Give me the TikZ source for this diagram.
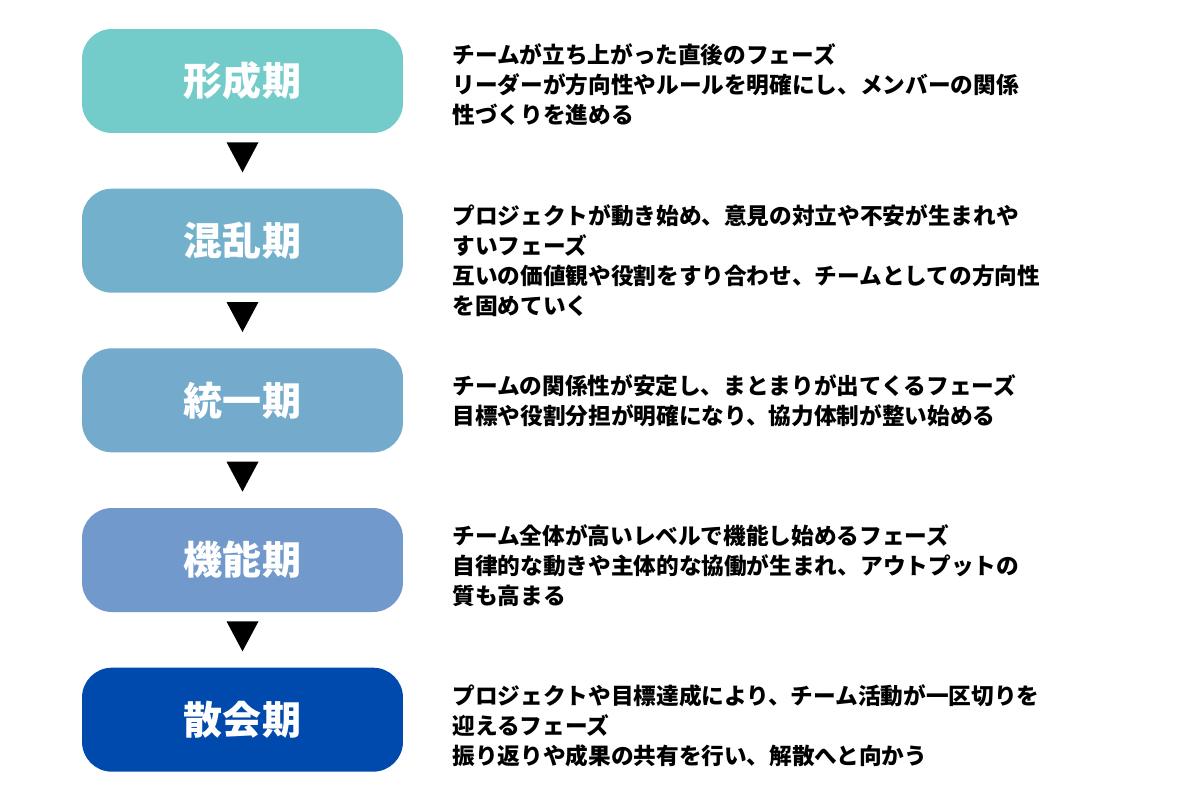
\documentclass[tikz,border=0pt]{standalone}
\usepackage{fontspec}
\setmainfont{Noto Sans CJK JP}
\usetikzlibrary{positioning,calc}
\definecolor{keisei}{RGB}{115,204,201}
\definecolor{konran}{RGB}{114,176,204}
\definecolor{touitsu}{RGB}{116,170,204}
\definecolor{kinou}{RGB}{113,153,204}
\definecolor{sankai}{RGB}{0,74,173}
\tikzset{
  phase/.style={rounded corners=17pt, minimum width=6.42cm, minimum height=2.08cm,
    inner sep=0, text=white, font=\fontsize{22.2}{26}\selectfont\bfseries},
  desc/.style={anchor=north west, inner sep=0, align=left,
    font=\fontsize{12.9}{17.1}\selectfont\bfseries},
}
\begin{document}
\begin{tikzpicture}[x=0.02cm,y=-0.02cm]
  \useasboundingbox (0,0) rectangle (1200,800);
  % 段階の箱
  \node[phase, fill=keisei] (keisei) at (242.5,81) {形成期};
  \node[phase, fill=konran, below=1.1cm of keisei] (konran) {混乱期};
  \node[phase, fill=touitsu, below=1.1cm of konran] (touitsu) {統一期};
  \node[phase, fill=kinou, below=1.1cm of touitsu] (kinou) {機能期};
  \node[phase, fill=sankai, below=1.1cm of kinou] (sankai) {散会期};
  % 三角
  \foreach \a in {keisei,konran,touitsu,kinou}
    \fill ($(\a.south)+(-16,9)$) -- ++(32,0) -- ++(-16,30) -- cycle;
  % 説明
  \node[desc] (dkeisei) at (452,43) {チームが立ち上がった直後のフェーズ\\
    リーダーが方向性やルールを明確にし、メンバーの関係\\
    性づくりを進める};
  \node[desc] (dkonran) at (452,204) {プロジェクトが動き始め、意見の対立や不安が生まれや\\
    すいフェーズ\\
    互いの価値観や役割をすり合わせ、チームとしての方向性\\
    を固めていく};
  \node[desc] (dtouitsu) at (452,374.5) {チームの関係性が安定し、まとまりが出てくるフェーズ\\
    目標や役割分担が明確になり、協力体制が整い始める};
  \node[desc] (dkinou) at (452,524) {チーム全体が高いレベルで機能し始めるフェーズ\\
    自律的な動きや主体的な協働が生まれ、アウトプットの\\
    質も高まる};
  \node[desc] (dsankai) at (452,684) {プロジェクトや目標達成により、チーム活動が一区切りを\\
    迎えるフェーズ\\
    振り返りや成果の共有を行い、解散へと向かう};
\end{tikzpicture}
\end{document}
